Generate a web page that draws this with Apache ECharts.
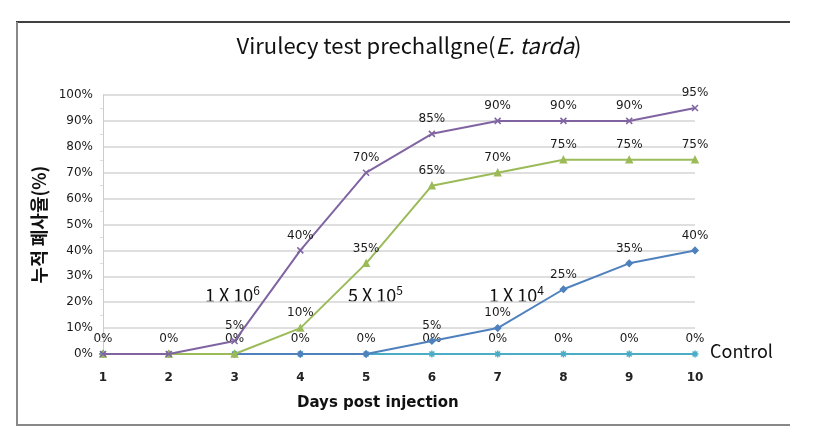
<!DOCTYPE html>
<html><head><meta charset="utf-8">
<script src="https://cdn.jsdelivr.net/npm/echarts@6/dist/echarts.min.js"></script>
<style>html,body{margin:0;padding:0;background:#fff}#c{width:837px;height:429px}</style>
</head><body><div id="c"></div>
<script>
const days = ['1','2','3','4','5','6','7','8','9','10'];
const dose1e6 = [0,0,5,40,70,85,90,90,90,95];
const dose5e5 = [0,0,0,10,35,65,70,75,75,75];
const dose1e4 = [0,0,0,0,0,5,10,25,35,40];
const control = [0,0,0,0,0,0,0,0,0,0];
const seriesNames = ['1 X 10^6','5 X 10^5','1 X 10^4','Control'];

const chart = echarts.init(document.getElementById('c'));
const xPath = 'path://M0,0L10,10M10,0L0,10';
const starPath = 'path://M5,0L5,10M0,5L10,5M1.5,1.5L8.5,8.5M8.5,1.5L1.5,8.5';
function lbl(hideZero){
  return {show:true, position:'top', distance:5, fontSize:12, color:'#1a1a1a', fontFamily:'DejaVu Sans',
    formatter: p => (hideZero && p.value === 0) ? '' : p.value + '%'};
}
function mk(name, data, color, symbol, size, z, hideZero){
  return {name, type:'line', data, z, symbol, symbolSize:size, showSymbol:true,
    lineStyle:{color, width:2}, itemStyle:{color, borderColor:color, borderWidth:1.5},
    label:lbl(hideZero), animation:false};
}
chart.setOption({
  animation:false,
  grid:{left:103, right:142, top:95, bottom:75},
  xAxis:{type:'category', data:days, boundaryGap:false,
    axisLine:{show:false}, axisTick:{show:false},
    axisLabel:{margin:18, fontSize:12, fontWeight:'bold', color:'#222', fontFamily:'DejaVu Sans'},
    splitLine:{show:false}},
  yAxis:{type:'value', min:0, max:100, interval:10,
    name:'누적 폐사율(%)', nameLocation:'middle', nameGap:48, nameRotate:90,
    nameTextStyle:{fontSize:18, fontWeight:'bold', color:'#111', fontFamily:'Noto Sans CJK KR'},
    axisLine:{show:true, lineStyle:{color:'#ccc'}}, axisTick:{show:false},
    minorTick:{show:true, splitNumber:2, length:3, lineStyle:{color:'#ddd'}},
    axisLabel:{formatter:'{value}%', margin:10, fontSize:12, color:'#1a1a1a', fontFamily:'DejaVu Sans'},
    splitLine:{lineStyle:{color:'#d4d4d4', width:1.5}}},
  series:[
    mk(seriesNames[3], control, '#4BACC6', starPath, 7, 2, false),
    mk(seriesNames[2], dose1e4, '#4F81BD', 'diamond', 6, 3, true),
    mk(seriesNames[1], dose5e5, '#9BBB59', 'triangle', 6, 4, true),
    mk(seriesNames[0], dose1e6, '#8064A2', xPath, 6, 5, true)
  ],
  graphic:[
    {type:'line', shape:{x1:16, y1:22, x2:790, y2:22}, style:{stroke:'#000', lineWidth:1.5}},
    {type:'line', shape:{x1:17, y1:22, x2:17, y2:425}, style:{stroke:'#888', lineWidth:2}},
    {type:'line', shape:{x1:16, y1:425, x2:790, y2:425}, style:{stroke:'#888', lineWidth:2}},
    {type:'text', x:409, y:35, style:{align:'center',
      text:'{n|Virulecy test prechallgne(}{i|E. tarda}{n|)}',
      rich:{n:{fontSize:22, fontFamily:'Noto Sans CJK KR', fill:'#111'},
            i:{fontSize:22, fontFamily:'Noto Sans CJK KR', fontStyle:'italic', fill:'#111'}}}},
    {type:'text', x:297, y:396, style:{text:'Days post injection', fontSize:15, fontWeight:'bold', fill:'#111', fontFamily:'DejaVu Sans'}},
    {type:'text', x:205, y:284, style:{text:'{a|1 X 10}{s|6}', rich:{a:{fontSize:18, fill:'#111', fontFamily:'Noto Sans CJK KR'}, s:{fontSize:12, fill:'#111', fontFamily:'Noto Sans CJK KR', verticalAlign:'top', padding:[0,0,10,0]}}}},
    {type:'text', x:348, y:284, style:{text:'{a|5 X 10}{s|5}', rich:{a:{fontSize:18, fill:'#111', fontFamily:'Noto Sans CJK KR'}, s:{fontSize:12, fill:'#111', fontFamily:'Noto Sans CJK KR', verticalAlign:'top', padding:[0,0,10,0]}}}},
    {type:'text', x:489, y:284, style:{text:'{a|1 X 10}{s|4}', rich:{a:{fontSize:18, fill:'#111', fontFamily:'Noto Sans CJK KR'}, s:{fontSize:12, fill:'#111', fontFamily:'Noto Sans CJK KR', verticalAlign:'top', padding:[0,0,10,0]}}}},
    {type:'text', x:710, y:342, style:{text:'Control', fontSize:18, fill:'#111', fontFamily:'Noto Sans CJK KR'}}
  ]
});
</script></body></html>
